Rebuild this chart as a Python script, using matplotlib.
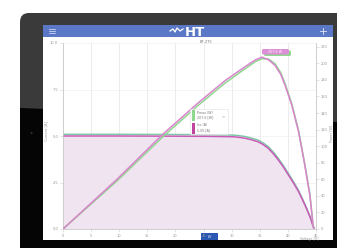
import matplotlib
matplotlib.use("Agg")
import matplotlib.pyplot as plt
from matplotlib.patches import FancyBboxPatch, Rectangle, Polygon, Circle

# ---------------- data ----------------
voltage_iv = [0, 10, 20, 26, 30.2, 31.3, 32.4, 33.5, 34.7, 35.6, 36.5, 37.4, 38.3,
              39.2, 40.1, 41.0, 41.9, 42.6, 43.3, 44.0, 44.5, 44.7]
current_pink = [5.00, 5.00, 4.99, 4.98, 4.96, 4.93, 4.88, 4.80, 4.69, 4.54, 4.34, 4.05,
                3.71, 3.33, 2.90, 2.47, 2.01, 1.57, 1.11, 0.60, 0.13, 0.0]
current_green = [5.09, 5.09, 5.08, 5.07, 5.05, 5.02, 4.97, 4.89, 4.78, 4.63, 4.43, 4.14,
                 3.80, 3.41, 2.98, 2.54, 2.07, 1.62, 1.15, 0.63, 0.15, 0.0]

voltage_pv = [0, 9.6, 17.7, 24, 28.8, 32.4, 34.2, 35.4, 36.6, 37.7, 38.7, 39.5,
              40.7, 41.9, 43.0, 43.9, 44.5, 44.7]
power_pink = [0, 60, 114, 152, 179, 196, 204, 207.5, 204, 197.5, 187, 173.5,
              149.4, 117.2, 77.1, 41, 3, 0]
power_green = [0, 58, 111, 149, 176, 193.5, 202, 205.5, 205, 199.5, 189, 175.5,
               151, 119, 79, 42.5, 4, 0]

x_ticks = [0, 5, 10, 15, 20, 25, 30, 35, 40, 45]
left_ticks = [0, 2.5, 5.0, 7.5, 10.0]
right_ticks = [0, 20, 40, 60, 80, 100, 120, 140, 160, 180, 200, 220]

W, H = 337, 248
fig = plt.figure(figsize=(W / 100, H / 100), dpi=100)
fig.patch.set_facecolor("white")

# background axes in pixel coordinates (y downwards)
bg = fig.add_axes([0, 0, 1, 1], zorder=0)
bg.set_xlim(0, W)
bg.set_ylim(H, 0)
bg.axis("off")

body = FancyBboxPatch((20, 13), 340, 260, boxstyle="round,pad=0,rounding_size=9",
                      facecolor="#3a3a3a", edgecolor="none")
bg.add_patch(body)
dark = Polygon([(0, 107), (W + 20, 123), (W + 20, H + 20), (0, H + 20)],
               closed=True, facecolor="#050505", edgecolor="none")
bg.add_patch(dark)
dark.set_clip_path(body)
bg.add_patch(Circle((31.5, 133), 1.2, facecolor="#2a2a2a", edgecolor="none"))

# screen
bg.add_patch(Rectangle((43, 25), 290, 215, facecolor="white", edgecolor="none"))
bg.add_patch(Rectangle((43, 25), 290, 12, facecolor="#5b78c6", edgecolor="none"))
# hamburger icon
for yy in (28.5, 30.5, 32.5):
    bg.plot([49, 55], [yy, yy], color="#c9d3f0", lw=0.6)
# plus icon
bg.plot([320, 326], [30.5, 30.5], color="#dfe6f8", lw=0.6)
bg.plot([323, 323], [27.5, 33.5], color="#dfe6f8", lw=0.6)
# logo
bg.plot([170, 173, 175, 177, 180, 183], [31, 29, 32, 28, 31, 29], color="white", lw=0.9)
bg.text(195, 32, "HT", color="white", fontsize=9.5, fontweight="bold",
        ha="center", va="center")
# title above plot
bg.text(206, 42, "BF-275", color="#777777", fontsize=2.6, ha="center", va="center")
# bottom button
bg.add_patch(Rectangle((201, 233), 17, 7, facecolor="#2b58b2", edgecolor="none"))
bg.text(209.5, 236.5, "I-V", color="white", fontsize=2.4, ha="center", va="center")
bg.text(309, 239, "Voltage [V]", color="#999999", fontsize=2.4, ha="center", va="center")
# axis titles
bg.text(46, 131, "Current [A]", color="#999999", fontsize=2.6, rotation=90,
        ha="center", va="center")
bg.text(331.5, 133, "Power [W]", color="#999999", fontsize=2.4, rotation=90,
        ha="center", va="center")

# ---------------- chart ----------------
ax = fig.add_axes([63 / W, 1 - 229 / H, 253 / W, 186 / H], zorder=2)
ax.set_xlim(0, 45)
ax.set_ylim(0, 10)
ax2 = ax.twinx()
ax2.set_zorder(3)
ax2.set_ylim(0, 224.5)
ax.patch.set_visible(False)
ax2.patch.set_visible(False)

ax.fill_between(voltage_iv, current_pink, 0, color="#efe4f0", lw=0, zorder=1)
ax.plot(voltage_iv, current_green, color="#7fc8a6", lw=1.1, zorder=3)
ax.plot(voltage_iv, current_pink, color="#c95bb8", lw=1.1, zorder=3)
ax2.plot(voltage_pv, power_green, color="#8fd68f", lw=1.1, zorder=3)
ax2.plot(voltage_pv, power_pink, color="#d985cc", lw=1.1, zorder=3)

ax.set_xticks(x_ticks)
ax.set_xticklabels([str(v) for v in x_ticks])
ax.set_yticks(left_ticks)
ax.set_yticklabels([f"{v:.1f}" for v in left_ticks])
ax2.set_yticks(right_ticks)
ax2.set_yticklabels([str(v) for v in right_ticks])
ax.grid(True, axis="x", color="#e4e4e4", lw=0.5)
ax.grid(True, axis="y", color="#f0f0f0", lw=0.5)
for a in (ax, ax2):
    a.tick_params(labelsize=2.6, labelcolor="#999999", color="#cccccc",
                  length=2, width=0.4, pad=1.5)
    for s in a.spines.values():
        s.set_color("#cccccc")
        s.set_linewidth(0.5)
    a.spines["top"].set_visible(False)
ax.set_axisbelow(True)

# top overlay layer
top = fig.add_axes([0, 0, 1, 1], zorder=10)
top.set_xlim(0, W)
top.set_ylim(H, 0)
top.axis("off")
top.patch.set_visible(False)

# tooltip box
top.add_patch(Rectangle((190, 109), 38, 25, facecolor="white", edgecolor="#e2e2e2", lw=0.4))
top.add_patch(Rectangle((192, 110), 2.5, 11, facecolor="#8fd68f", edgecolor="none"))
top.add_patch(Rectangle((192, 122.5), 2.5, 11, facecolor="#c0449f", edgecolor="none"))
top.text(197, 113, "Pmax (W)", fontsize=2.3, color="#777777", va="center")
top.text(197, 117.5, "207.6 [W]", fontsize=2.3, color="#777777", va="center")
top.text(197, 125.5, "Isc (A)", fontsize=2.3, color="#777777", va="center")
top.text(197, 130, "5.00 [A]", fontsize=2.3, color="#777777", va="center")
top.text(223, 116, ">", fontsize=3, color="#999999", va="center", ha="center")

# peak label
top.add_patch(FancyBboxPatch((264, 50.5), 27, 5.5, boxstyle="round,pad=0,rounding_size=1.5",
                             facecolor="#8fd68f", edgecolor="none"))
top.add_patch(FancyBboxPatch((262, 49), 27, 5.5, boxstyle="round,pad=0,rounding_size=1.5",
                             facecolor="#dc8fd4", edgecolor="none"))
top.text(275.5, 51.8, "207.6 W", fontsize=2.4, color="white", ha="center", va="center")

fig.savefig("out.png", dpi=100, facecolor=fig.get_facecolor())
